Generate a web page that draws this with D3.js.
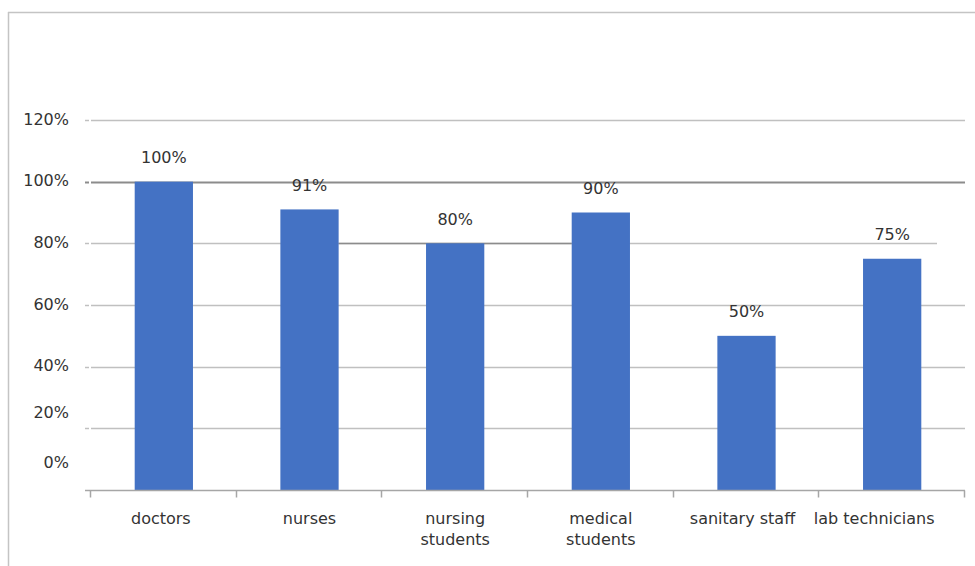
<!DOCTYPE html>
<html><head><meta charset="utf-8">
<script src="https://cdn.jsdelivr.net/npm/d3@7/dist/d3.min.js"></script>
<style>body{margin:0;background:#fff}svg{display:block}text{font-family:"DejaVu Sans",sans-serif;fill:#333}</style>
</head><body><svg id="c" width="975" height="566"></svg>
<script>
const categories = ["doctors", "nurses", "nursing students", "medical students", "sanitary staff", "lab technicians"];
const values = [100, 91, 80, 90, 50, 75];
const labels = ["100%", "91%", "80%", "90%", "50%", "75%"];
const yTicks = [0, 20, 40, 60, 80, 100, 120];
const yTickLabels = ["0%", "20%", "40%", "60%", "80%", "100%", "120%"];

const svg = d3.select("#c");
const x = d3.scaleBand().domain(categories).range([91, 965]).paddingInner(0.6).paddingOuter(0.3);
const y = d3.scaleLinear().domain([0, 120]).range([490, 120]);
const FS = "16px";

// frame
svg.append("line").attr("x1",8.5).attr("x2",8.5).attr("y1",12).attr("y2",566).attr("stroke","#c4c4c4").attr("stroke-width",1.5);
svg.append("line").attr("x1",8).attr("x2",975).attr("y1",12.5).attr("y2",12.5).attr("stroke","#c4c4c4").attr("stroke-width",1.5);

// gridlines
const g = svg.append("g");
yTicks.filter(v => v > 0).forEach(v => {
  const yy = Math.round(y(v)) + 0.5;
  const dark = v === 100;
  const xEnd = v === 80 ? 937 : 965;
  g.append("line").attr("x1",85).attr("x2",89).attr("y1",yy).attr("y2",yy).attr("stroke", dark ? "#8c8c8c" : "#c0c0c0").attr("stroke-width", dark ? 2 : 1.5);
  g.append("line").attr("x1",91).attr("x2",xEnd).attr("y1",yy).attr("y2",yy).attr("stroke", dark ? "#8c8c8c" : "#c0c0c0").attr("stroke-width", dark ? 2 : 1.5);
});
// darker segment on 80% line between nurses and medical students
{
  const yy = Math.round(y(80)) + 0.5;
  g.append("line").attr("x1", x("nurses") + x.bandwidth()).attr("x2", x("medical students")).attr("y1",yy).attr("y2",yy).attr("stroke","#8c8c8c").attr("stroke-width",1.5);
}

// bars
svg.append("g").selectAll("rect").data(categories).join("rect")
  .attr("x", d => x(d)).attr("width", x.bandwidth())
  .attr("y", (d,i) => y(values[i])).attr("height", (d,i) => y(0) - y(values[i]))
  .attr("fill", "#4472c4");

// baseline + ticks
const base = Math.round(y(0)) + 0.5;
svg.append("line").attr("x1",85).attr("x2",965).attr("y1",base).attr("y2",base).attr("stroke","#a6a6a6").attr("stroke-width",1.5);
const step = x.step();
d3.range(categories.length + 1).forEach(i => {
  const xx = Math.round(91 + i * step) - 0.5;
  svg.append("line").attr("x1",xx).attr("x2",xx).attr("y1",base).attr("y2",base+7).attr("stroke","#a6a6a6").attr("stroke-width",1.5);
});

// y labels
const labelShift = {0: -27, 20: -15};
svg.append("g").selectAll("text").data(yTicks).join("text")
  .attr("x", 69).attr("y", d => y(d) + (labelShift[d] || 0) - 1)
  .attr("text-anchor","end").attr("dominant-baseline","central")
  .style("font-size",FS).text((d,i) => yTickLabels[i]);

// value labels
svg.append("g").selectAll("text").data(categories).join("text")
  .attr("x", d => x(d) + x.bandwidth()/2).attr("y", (d,i) => y(values[i]) - 24)
  .attr("text-anchor","middle").attr("dominant-baseline","central")
  .style("font-size",FS).text((d,i) => labels[i]);

// category labels
const wrap = {"nursing students": ["nursing","students"], "medical students": ["medical","students"]};
const catShift = {"doctors": -3, "sanitary staff": -4, "lab technicians": -18};
categories.forEach(c => {
  const lines = wrap[c] || [c];
  const cx = x(c) + x.bandwidth()/2 + (catShift[c] || 0);
  const t = svg.append("text").attr("x", cx).attr("y", 518)
    .attr("text-anchor","middle").attr("dominant-baseline","central").style("font-size",FS);
  lines.forEach((l, i) => t.append("tspan").attr("x", cx).attr("dy", i ? 21 : 0).text(l));
});
</script></body></html>
